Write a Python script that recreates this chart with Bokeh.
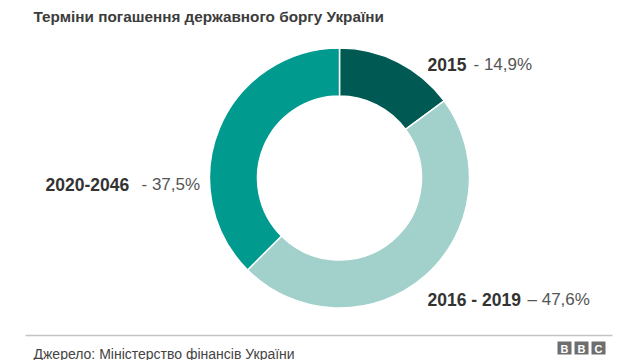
import numpy as np
from bokeh.plotting import figure
from bokeh.models import Range1d
from bokeh.embed import file_html
from bokeh.resources import INLINE
from bokeh.core.properties import value

# ---- data ----
periods = ["2015", "2016 - 2019", "2020-2046"]
shares = [14.9, 47.6, 37.5]
share_texts = ["- 14,9%", "\u2013 47,6%", "- 37,5%"]
colors = ["#005a53", "#a2d1cb", "#009a8f"]

title = "Терміни погашення державного боргу України"
source = "Джерело: Міністерство фінансів України"

# ---- layout (image pixel coordinates) ----
FONT = value("Liberation Sans")
W, H = 640, 360
def Y(img_y):
    return H - img_y

cx, cy = 339, 177.5
r_out, r_in = 130, 82

label_x_bold = [427, 427, 45]
label_x_norm = [473, 527, 141]
label_base = [64, 299, 184]

p = figure(width=W, height=H, x_range=Range1d(0, W), y_range=Range1d(0, H),
           output_backend="svg", toolbar_location=None, min_border=0)
p.axis.visible = False
p.grid.visible = False
p.outline_line_color = None
p.background_fill_color = "white"
p.border_fill_color = "white"

cum = np.concatenate([[0], np.cumsum(shares)]) / 100.0
start = np.pi / 2 - 2 * np.pi * cum[:-1]
end = np.pi / 2 - 2 * np.pi * cum[1:]
p.annular_wedge(x=cx, y=Y(cy), inner_radius=r_in, outer_radius=r_out,
                start_angle=list(start), end_angle=list(end), direction="clock",
                fill_color=colors, line_color="white", line_width=1.5)

# title
p.text(x=[33], y=[Y(16)], text=[title], text_font=FONT, text_font_style="bold",
       text_font_size="15.3px", text_color="#3c3c3c", text_baseline="alphabetic")

# labels
p.text(x=label_x_bold, y=[Y(b) for b in label_base], text=periods, text_font=FONT,
       text_font_style="bold", text_font_size="17.5px", text_color="#333333",
       text_baseline="alphabetic", text_align="left")
p.text(x=label_x_norm, y=[Y(b) for b in label_base], text=share_texts, text_font=FONT,
       text_font_size="17px", text_color="#555555",
       text_baseline="alphabetic", text_align="left")

# footer line
p.segment(x0=[25], y0=[Y(335)], x1=[612], y1=[Y(335)], line_color="#c4c4c4", line_width=1.5)

# source
p.text(x=[33], y=[Y(353)], text=[source], text_font=FONT, text_font_size="14px",
       text_color="#444444", text_baseline="alphabetic")

# BBC logo
bx = [564, 581, 598]
p.rect(x=bx, y=[Y(347.5)] * 3, width=14, height=13, fill_color="#6e6e6e", line_color=None)
p.text(x=bx, y=[Y(348)] * 3, text=["B", "B", "C"], text_font=FONT, text_font_style="bold",
       text_font_size="11px", text_color="white", text_align="center", text_baseline="middle")

open("out.html", "w").write(file_html(p, INLINE))
